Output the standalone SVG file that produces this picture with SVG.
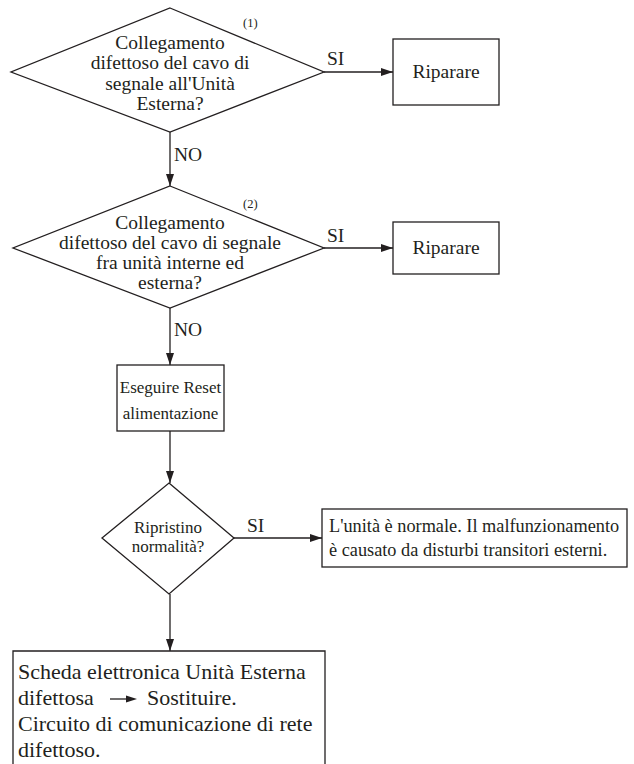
<svg xmlns="http://www.w3.org/2000/svg" width="634" height="764" viewBox="0 0 634 764" font-family="'Liberation Serif', 'Times New Roman', serif">
  <style>
    .shape { fill: #ffffff; stroke: #231f20; stroke-width: 1.3; }
    .line { fill: none; stroke: #231f20; stroke-width: 1.3; }
    text { font-family: 'Liberation Serif', 'Times New Roman', serif; fill: #231f20; }
    .t20 { font-size: 19.5px; }
    .t17 { font-size: 17px; }
    .t18 { font-size: 18.3px; }
    .t22 { font-size: 22px; }
    .t12 { font-size: 12.5px; }
    .mid { text-anchor: middle; }
  </style>
  <defs>
    <marker id="arrow" markerWidth="12" markerHeight="8" refX="12" refY="4" orient="auto" markerUnits="userSpaceOnUse">
      <path d="M0,0 L12,4 L0,8 Z" fill="#231f20"/>
    </marker>
  </defs>

  <rect width="634" height="764" fill="#ffffff"/>

  <!-- connectors -->
  <g id="connectors">
    <line class="line" x1="324" y1="72" x2="393" y2="72" marker-end="url(#arrow)"/>
    <text class="t20" x="327" y="65">SI</text>
    <line class="line" x1="170" y1="132" x2="170" y2="186" marker-end="url(#arrow)"/>
    <text class="t20" x="174" y="161">NO</text>

    <line class="line" x1="324" y1="248" x2="393" y2="248" marker-end="url(#arrow)"/>
    <text class="t20" x="327" y="242">SI</text>
    <line class="line" x1="170" y1="308" x2="170" y2="365" marker-end="url(#arrow)"/>
    <text class="t20" x="174" y="336">NO</text>

    <line class="line" x1="170" y1="431" x2="170" y2="483" marker-end="url(#arrow)"/>

    <line class="line" x1="234" y1="538" x2="322" y2="538" marker-end="url(#arrow)"/>
    <text class="t20" x="247" y="532">SI</text>
    <line class="line" x1="170" y1="594" x2="170" y2="651" marker-end="url(#arrow)"/>
  </g>

  <!-- decision 1 -->
  <g id="decision1">
    <polygon class="shape" points="170,8 324,72 170,132 11,72"/>
    <text class="t12" x="243" y="27">(1)</text>
    <text class="t20 mid" x="170" y="49">Collegamento</text>
    <text class="t20 mid" x="170" y="69">difettoso del cavo di</text>
    <text class="t20 mid" x="170" y="90">segnale all'Unità</text>
    <text class="t20 mid" x="170" y="110">Esterna?</text>
  </g>

  <g id="repair1">
    <rect class="shape" x="393" y="39" width="106" height="66"/>
    <text class="t20 mid" x="446" y="78">Riparare</text>
  </g>

  <!-- decision 2 -->
  <g id="decision2">
    <polygon class="shape" points="170,186 324,248 170,308 13,248"/>
    <text class="t12" x="243" y="208">(2)</text>
    <text class="t20 mid" x="170" y="229">Collegamento</text>
    <text class="t20 mid" x="170" y="249">difettoso del cavo di segnale</text>
    <text class="t20 mid" x="170" y="269">fra unità interne ed</text>
    <text class="t20 mid" x="170" y="289">esterna?</text>
  </g>

  <g id="repair2">
    <rect class="shape" x="393" y="222" width="106" height="52"/>
    <text class="t20 mid" x="446" y="254">Riparare</text>
  </g>

  <!-- reset step -->
  <g id="reset">
    <rect class="shape" x="117" y="365" width="107" height="66"/>
    <text class="t17 mid" x="170.5" y="393">Eseguire Reset</text>
    <text class="t17 mid" x="170.5" y="419">alimentazione</text>
  </g>

  <!-- decision 3 -->
  <g id="decision3">
    <polygon class="shape" points="169,483 234,538 169,594 102,538"/>
    <text class="t17 mid" x="168" y="533">Ripristino</text>
    <text class="t17 mid" x="168" y="552">normalità?</text>
  </g>

  <g id="normal">
    <rect class="shape" x="322" y="509" width="305" height="58"/>
    <text class="t18" x="329" y="532">L'unità è normale. Il malfunzionamento</text>
    <text class="t18" x="329" y="556">è causato da disturbi transitori esterni.</text>
  </g>

  <!-- final step, box continues past the bottom edge -->
  <g id="replace">
    <path class="shape" d="M13,766 L13,651 L325,651 L325,766"/>
    <text class="t22" x="18" y="679">Scheda elettronica Unità Esterna</text>
    <text class="t22" x="18" y="705">difettosa</text>
    <line class="line" x1="110" y1="699" x2="128" y2="699"/>
    <path d="M137,699 L126,695.5 L126,702.5 Z" fill="#231f20"/>
    <text class="t22" x="147" y="705">Sostituire.</text>
    <text class="t22" x="18" y="731">Circuito di comunicazione di rete</text>
    <text class="t22" x="18" y="757">difettoso.</text>
  </g>
</svg>
